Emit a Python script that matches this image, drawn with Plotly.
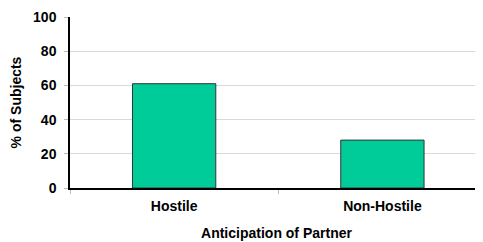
import plotly.graph_objects as go

categories = ["Hostile", "Non-Hostile"]
values = [61, 28]
y_ticks = [0, 20, 40, 60, 80, 100]

FAM = "Liberation Sans, Arial, sans-serif"

fig = go.Figure()
fig.add_trace(go.Bar(
    x=categories, y=values, width=0.4,
    marker=dict(color="#00CC99", line=dict(color="#333333", width=1)),
))

fig.update_layout(
    width=475, height=234,
    margin=dict(l=62, r=0, t=9, b=54, pad=0),
    paper_bgcolor="white", plot_bgcolor="white",
    showlegend=False,
    font=dict(family=FAM, size=14, color="black"),
    xaxis=dict(
        range=[-0.5, 1.483], showline=True, linecolor="black", linewidth=1.5,
        ticks="outside", tickson="boundaries", ticklen=4, tickcolor="#BBBBBB",
        tickfont=dict(family=FAM, size=14, color="black", weight="bold"),
        ticklabelstandoff=4,
        title=dict(text="<b>Anticipation of Partner</b>", standoff=16,
                   font=dict(family=FAM, size=14)),
        showgrid=False, automargin=False,
    ),
    yaxis=dict(
        range=[0, 100], tickvals=y_ticks, showline=True, linecolor="black", linewidth=1.5,
        ticks="outside", ticklen=4, tickcolor="#BBBBBB",
        showgrid=True, gridcolor="#D9D9D9", gridwidth=1,
        tickfont=dict(family=FAM, size=14, color="black", weight="bold"),
        ticklabelstandoff=5,
        title=dict(text="<b>% of Subjects</b>", standoff=16,
                   font=dict(family=FAM, size=14)),
        zeroline=False, automargin=False,
    ),
)
fig.write_html("out.html")
